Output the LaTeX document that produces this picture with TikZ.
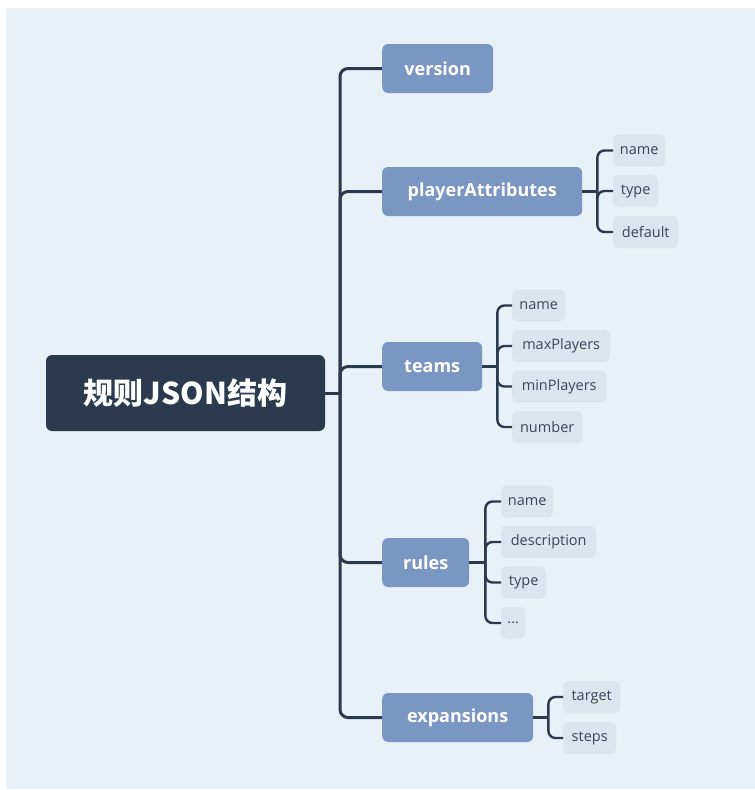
\documentclass[tikz,border=0pt]{standalone}
\usepackage{fontspec}
\setmainfont{Open Sans}
\newfontfamily\cjk{Noto Sans CJK SC}
\definecolor{bgc}{HTML}{E8F0F8}
\definecolor{rootc}{HTML}{2B3A4F}
\definecolor{mainc}{HTML}{7A97C3}
\definecolor{childc}{HTML}{DCE4EE}
\definecolor{childt}{HTML}{3B4656}
\definecolor{linec}{HTML}{2B3A4F}
\tikzset{
  rootbox/.style={fill=rootc, rounded corners=6pt, text=white, minimum width=279pt, minimum height=76pt, font=\cjk\bfseries\fontsize{30}{34}\selectfont, inner sep=0pt},
  mainbox/.style={fill=mainc, rounded corners=6pt, text=white, anchor=west, minimum height=49pt, inner xsep=2pt, inner ysep=0pt, font=\bfseries\fontsize{18}{22}\selectfont},
  childbox/.style={fill=childc, rounded corners=5pt, text=childt, anchor=west, minimum height=32pt, inner xsep=2pt, inner ysep=0pt, font=\fontsize{14.5}{18}\selectfont},
  conn/.style={draw=linec, line width=3pt},
  subconn/.style={draw=linec, line width=2.4pt},
}
\begin{document}
\begin{tikzpicture}[x=1pt,y=-1pt]
\useasboundingbox (0,0) rectangle (755,790);
\fill[bgc] (6,8) rectangle (755,789);

\node[rootbox] (root) at (185.5,393) {规则JSON结构};

\node[mainbox, minimum width=111pt] (version) at (382,68.5) {version};
\node[mainbox, minimum width=200pt] (pa) at (382,191.5) {playerAttributes};
\node[mainbox, minimum width=100pt] (teams) at (382,366.5) {teams};
\node[mainbox, minimum width=87pt] (rules) at (382,562.5) {rules};
\node[mainbox, minimum width=151pt] (exp) at (382,717.5) {expansions};

\node[childbox, minimum width=52pt] (pa1) at (613,150.5) {name};
\node[childbox, minimum width=45pt] (pa2) at (613,191) {type};
\node[childbox, minimum width=65pt] (pa3) at (613,232) {default};

\node[childbox, minimum width=53pt] (t1) at (512,305.5) {name};
\node[childbox, minimum width=98pt] (t2) at (512,346) {maxPlayers};
\node[childbox, minimum width=94pt] (t3) at (512,386.5) {minPlayers};
\node[childbox, minimum width=70pt] (t4) at (512,427) {number};

\node[childbox, minimum width=52pt] (r1) at (501,501.5) {name};
\node[childbox, minimum width=95pt] (r2) at (501,542) {description};
\node[childbox, minimum width=45pt] (r3) at (501,582.5) {type};
\node[childbox, minimum width=24pt] (r4) at (501,623) {...};

\node[childbox, minimum width=57pt] (e1) at (563,697) {target};
\node[childbox, minimum width=53pt] (e2) at (563,738) {steps};

\coordinate (J) at (340,393);
\draw[conn] (root.east) -- (J);
\foreach \n in {version,pa,teams,rules,exp}
  \draw[conn, rounded corners=8pt] (J) |- (\n.west);

\path (pa.east) ++(15,0) coordinate (paJ);
\path (teams.east) ++(15,0) coordinate (tJ);
\path (rules.east) ++(16,0) coordinate (rJ);
\path (exp.east) ++(15,0) coordinate (eJ);

\draw[subconn] (pa.east) -- (paJ);
\foreach \n in {pa1,pa2,pa3}
  \draw[subconn, rounded corners=7pt] (paJ) |- (\n.west);
\draw[subconn] (teams.east) -- (tJ);
\foreach \n in {t1,t2,t3,t4}
  \draw[subconn, rounded corners=7pt] (tJ) |- (\n.west);
\draw[subconn] (rules.east) -- (rJ);
\foreach \n in {r1,r2,r3,r4}
  \draw[subconn, rounded corners=7pt] (rJ) |- (\n.west);
\draw[subconn] (exp.east) -- (eJ);
\foreach \n in {e1,e2}
  \draw[subconn, rounded corners=7pt] (eJ) |- (\n.west);
\end{tikzpicture}
\end{document}
